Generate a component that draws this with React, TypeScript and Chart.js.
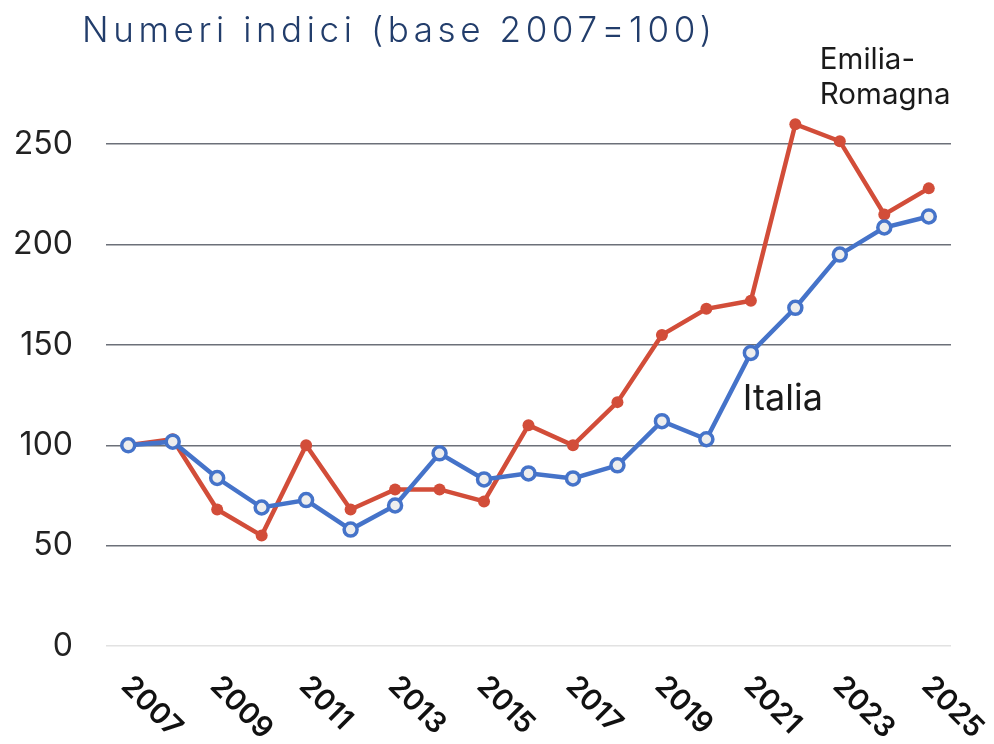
import React, { useEffect, useRef } from "react";
import { Chart, registerables } from "chart.js";

Chart.register(...registerables);

const years = ["2007","2008","2009","2010","2011","2012","2013","2014","2015","2016","2017","2018","2019","2020","2021","2022","2023","2024","2025"];
const emiliaRomagna = [100, 103, 68, 55, 100, 68, 78, 78, 72, 110, 100, 121.5, 155, 168, 172, 260, 251.5, 215, 228];
const italia = [100, 101.8, 83.7, 69, 72.7, 58, 70, 96, 83, 86, 83.5, 90, 112, 103, 146, 168.5, 195, 208.5, 214];
const yTicks = [0, 50, 100, 150, 200, 250];
const titleText = "Numeri indici (base 2007=100)";
const labelItalia = "Italia";
const labelER = ["Emilia-", "Romagna"];

const RED = "#d24d39";
const BLUE = "#4573c9";

export default function App() {
  const ref = useRef<HTMLCanvasElement | null>(null);
  useEffect(() => {
    const canvas = ref.current!;
    const annot = {
      id: "annot",
      afterDatasetsDraw(chart: any) {
        const ctx = chart.ctx as CanvasRenderingContext2D;
        const x = chart.scales.x;
        const y = chart.scales.y;
        ctx.save();
        // title
        (ctx as any).letterSpacing = "4.6px";
        ctx.fillStyle = "#223d6b";
        ctx.font = "300 35px Inter";
        ctx.textAlign = "left";
        ctx.textBaseline = "alphabetic";
        ctx.fillText(titleText, 82, 42);
        (ctx as any).letterSpacing = "0px";
        // Italia label
        ctx.fillStyle = "#1a1a1a";
        ctx.font = "400 36px Inter";
        ctx.fillText(labelItalia, x.getPixelForValue(14) - 8, y.getPixelForValue(117.5));
        // Emilia-Romagna label
        ctx.font = "400 29.5px Inter";
        const ex = x.getPixelForValue(16) - 20;
        ctx.fillText(labelER[0], ex, y.getPixelForValue(287.5));
        ctx.fillText(labelER[1], ex, y.getPixelForValue(270));
        // x labels (rotated downward)
        ctx.font = "600 29px Inter";
        ctx.fillStyle = "#111";
        ctx.textAlign = "left";
        ctx.textBaseline = "top";
        years.forEach((yr, i) => {
          if (i % 2 !== 0) return;
          const px = x.getPixelForValue(i);
          ctx.save();
          ctx.translate(px + 8, 671);
          ctx.rotate(Math.PI / 4);
          ctx.fillText(yr, 0, 0);
          ctx.restore();
        });
        ctx.restore();
      },
    };
    const chart = new Chart(canvas, {
      type: "line",
      data: {
        labels: years,
        datasets: [
          {
            label: "Italia",
            data: italia,
            borderColor: BLUE,
            backgroundColor: "#eeeeee",
            borderWidth: 4.5,
            pointRadius: 6.5,
            pointBorderWidth: 3.5,
            pointBackgroundColor: "#eeeeee",
            pointBorderColor: BLUE,
            tension: 0,
          },
          {
            label: "Emilia-Romagna",
            data: emiliaRomagna,
            borderColor: RED,
            backgroundColor: RED,
            borderWidth: 4.5,
            pointRadius: 6,
            pointBorderWidth: 0,
            pointBackgroundColor: RED,
            tension: 0,
          },
        ],
      },
      options: {
        responsive: false,
        animation: false,
        devicePixelRatio: 1,
        layout: { padding: { top: 84, right: 43, left: 0, bottom: 0 } },
        plugins: { legend: { display: false }, tooltip: { enabled: false }, title: { display: false } },
        scales: {
          x: {
            offset: true,
            grid: { display: false },
            border: { display: false },
            ticks: { display: false },
            afterFit: (s: any) => { s.height = 98; },
          },
          y: {
            min: 0,
            max: 280,
            afterBuildTicks: (s: any) => { s.ticks = yTicks.map((v) => ({ value: v })); },
            afterFit: (s: any) => { s.width = 106; },
            border: { display: false },
            grid: {
              drawTicks: false,
              lineWidth: 1.5,
              color: (c: any) => (c.tick && c.tick.value === 0 ? "#e2e2e2" : "#6c7079"),
            },
            ticks: {
              padding: 33,
              color: "#222",
              font: { family: "Inter", size: 32, weight: "normal" as any },
            },
          },
        },
      },
      plugins: [annot],
    });
    return () => chart.destroy();
  }, []);
  return (
    <div style={{ position: "absolute", left: 0, top: 0, width: 994, height: 744, background: "#fff" }}>
      <canvas ref={ref} width={994} height={744} style={{ width: 994, height: 744, display: "block" }} />
    </div>
  );
}
